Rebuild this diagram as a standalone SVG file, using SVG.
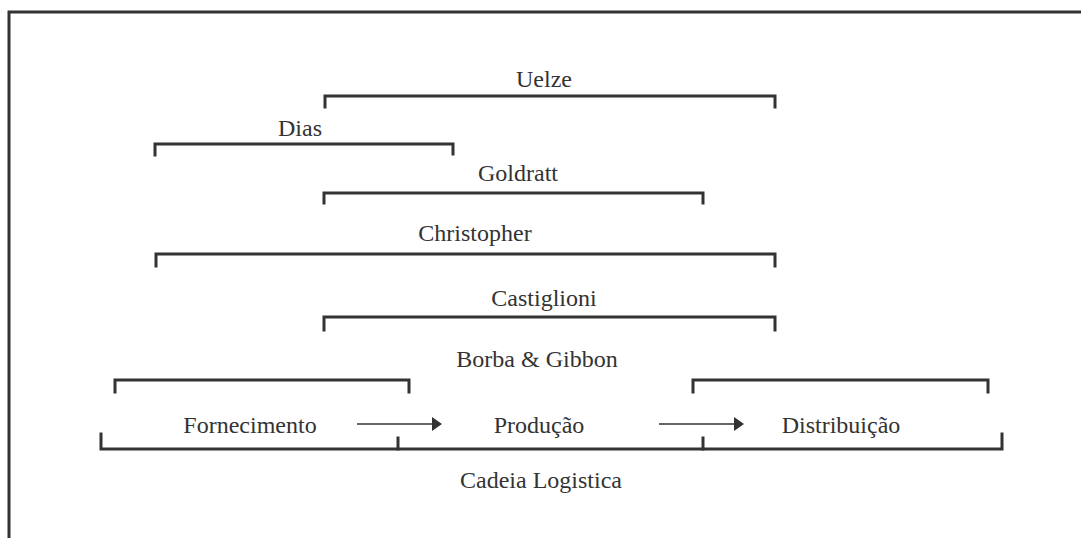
<svg xmlns="http://www.w3.org/2000/svg" width="1081" height="538" viewBox="0 0 1081 538">
<defs>
<style>
.br{fill:none;stroke:#333;stroke-width:3;stroke-linecap:square;stroke-linejoin:miter}
.lb{font-family:"Liberation Serif","Times New Roman",serif;font-size:24px;fill:#333;text-anchor:middle}
.ar{fill:none;stroke:#333;stroke-width:1.5}
</style>
<marker id="ah" viewBox="0 0 10 10" refX="1" refY="5" markerWidth="10" markerHeight="14" markerUnits="userSpaceOnUse" orient="auto" preserveAspectRatio="none">
<path d="M0,0 L10,5 L0,10 Z" fill="#333"/>
</marker>
</defs>
<rect width="1081" height="538" fill="#fff"/>
<path d="M1090,12 H9 V545" fill="none" stroke="#333" stroke-width="3"/>
<g id="uelze"><path class="br" d="M325,107 V96 H775 V107"/><text class="lb" x="544" y="87">Uelze</text></g>
<g id="dias"><path class="br" d="M155,155 V144 H453 V154"/><text class="lb" x="300" y="136">Dias</text></g>
<g id="goldratt"><path class="br" d="M324,203 V193 H703 V203"/><text class="lb" x="518" y="181">Goldratt</text></g>
<g id="christopher"><path class="br" d="M156,266 V254 H775 V266"/><text class="lb" x="475" y="241">Christopher</text></g>
<g id="castiglioni"><path class="br" d="M324,330 V317 H775 V330"/><text class="lb" x="544" y="306">Castiglioni</text></g>
<g id="borba"><text class="lb" x="537" y="367">Borba &amp; Gibbon</text><path class="br" d="M115,392 V380 H409 V392"/><path class="br" d="M693,392 V380 H988 V392"/></g>
<g id="fornecimento"><text class="lb" x="250" y="433">Fornecimento</text></g>
<g id="producao"><text class="lb" x="539" y="433">Produção</text></g>
<g id="distribuicao"><text class="lb" x="841" y="433">Distribuição</text></g>
<g id="cadeia"><path class="br" d="M101,434 V449 H1002 V434"/><path class="br" d="M398,438 V449 M703,438 V449"/><text class="lb" x="541" y="488">Cadeia Logistica</text></g>
<g id="connectors">
<path class="ar" d="M357,424 H433" marker-end="url(#ah)"/>
<path class="ar" d="M659,424 H735" marker-end="url(#ah)"/>
</g>
</svg>
